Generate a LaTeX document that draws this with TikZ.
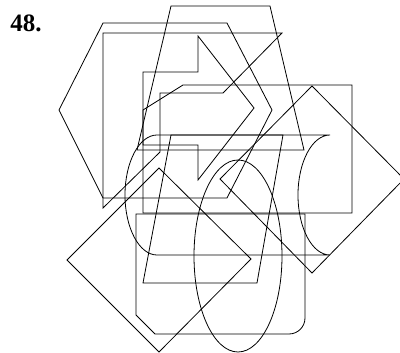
\documentclass[tikz,border=0pt]{standalone}
\usepackage{fontspec}
\setmainfont{Liberation Serif}
\usetikzlibrary{calc}

\begin{document}
\begin{tikzpicture}[x=1pt,y=-1pt,line width=0.8pt,line join=miter]
  \useasboundingbox (0,0) rectangle (400,353);

  \coordinate (Ec) at (238,256);
  \coordinate (Lc) at (157,195);

  \node[anchor=base west,inner sep=0pt,font=\bfseries\fontsize{25}{25}\selectfont] (num) at (10,32) {48.};

  \draw (103,23) -- (227,23) -- (272,110) -- (227,198) -- (103,198) -- (59,110) -- cycle;
  \draw (137,150) -- (304,150) -- (270,6) -- (171,6) -- cycle;
  \draw (103,33) -- (282,33) -- (223,93) -- (160,93) -- (160,152) -- (103,208) -- cycle;
  \draw (143,72) -- (198,72) -- (198,36) -- (254,108) -- (198,180) -- (198,145) -- (143,145) -- cycle;
  \draw (143,110) -- (183,85) -- (352,85) -- (352,213) -- (143,213) -- cycle;
  \draw (157,135) -- (330,135) arc[start angle=270,end angle=90,x radius=32,y radius=60]
        -- (157,255) arc[start angle=90,end angle=270,x radius=32,y radius=60] -- cycle;
  \draw (171,135) -- (283,135) -- (257,283) -- (143,283) -- cycle;
  \draw (67,260) -- (159,168) -- (251,259) -- (159,352) -- cycle;
  \draw (220,179) -- (312,86) -- (404,179) -- (312,273) -- cycle;
  \draw (Ec) ellipse [x radius=44,y radius=96];
  \draw (136,214) -- (305,214) -- (305,318) arc[start angle=0,end angle=90,radius=16]
        -- (155,334) -- (136,315) -- cycle;
\end{tikzpicture}
\end{document}
